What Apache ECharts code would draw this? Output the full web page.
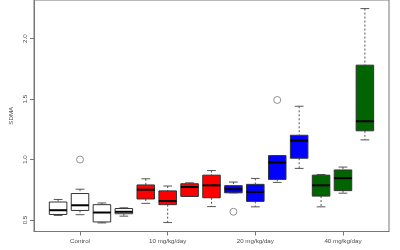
<!DOCTYPE html>
<html>
<head>
<meta charset="utf-8">
<script src="https://cdn.jsdelivr.net/npm/echarts@6/dist/echarts.min.js"></script>
<style>html,body{margin:0;padding:0;background:#fff;}#c{width:400px;height:250px;}</style>
</head>
<body>
<div id="c"></div>
<script>
const categories = ['Control', '10 mg/kg/day', '20 mg/kg/day', '40 mg/kg/day'];
const categoryPositions = [2, 6, 10, 14];
const yTickValues = [0.5, 1.0, 1.5, 2.0];
const boxPositions = [1, 2, 3, 4, 5, 6, 7, 8, 9, 10, 11, 12, 13, 14, 15];
const boxGroup = [0, 0, 0, 0, 1, 1, 1, 1, 2, 2, 2, 2, 3, 3, 3];
const whiskerLow  = [0.538, 0.544, 0.476, 0.532, 0.638, 0.479, 0.695, 0.611, 0.725, 0.609, 0.811, 0.927, 0.609, 0.722, 1.163];
const q1          = [0.546, 0.579, 0.484, 0.552, 0.674, 0.627, 0.695, 0.684, 0.725, 0.654, 0.836, 1.011, 0.698, 0.743, 1.238];
const median      = [0.581, 0.622, 0.562, 0.568, 0.751, 0.657, 0.773, 0.787, 0.755, 0.733, 0.976, 1.157, 0.787, 0.846, 1.317];
const q3          = [0.649, 0.719, 0.627, 0.595, 0.790, 0.741, 0.800, 0.871, 0.784, 0.795, 1.033, 1.201, 0.871, 0.914, 1.781];
const whiskerHigh = [0.670, 0.755, 0.641, 0.601, 0.841, 0.781, 0.808, 0.909, 0.814, 0.844, 1.033, 1.441, 0.876, 0.938, 2.249];
const outlierPositions = [2, 9, 11];
const outlierValues = [1.0, 0.568, 1.493];

const groupFill = ['#ffffff', '#ff0000', '#0000ff', '#006400'];

const boxData = boxPositions.map((p, i) => [p, whiskerLow[i], q1[i], median[i], q3[i], whiskerHigh[i], boxGroup[i]]);
const outlierData = outlierPositions.map((p, i) => [p, outlierValues[i]]);

const FONT = 'Liberation Sans, Arial, sans-serif';
const TXT = '#4a4a4a';

function renderBox(params, api) {
  const x = api.value(0);
  const wl = api.coord([x, api.value(1)]);
  const lo = api.coord([x, api.value(2)]);
  const md = api.coord([x, api.value(3)]);
  const hi = api.coord([x, api.value(4)]);
  const wh = api.coord([x, api.value(5)]);
  const g = api.value(6);
  const half = api.size([0.8, 0])[0] / 2;
  const staple = half / 2;
  const cx = wl[0];
  const children = [];
  const dash = {stroke: '#555', lineWidth: 1, lineDash: [2, 2]};
  const solid = {stroke: '#555', lineWidth: 1};
  if (wh[1] < hi[1] - 0.5) {
    children.push({type: 'line', shape: {x1: cx, y1: wh[1], x2: cx, y2: hi[1]}, style: dash});
  }
  children.push({type: 'line', shape: {x1: cx - staple, y1: wh[1], x2: cx + staple, y2: wh[1]}, style: solid});
  if (wl[1] > lo[1] + 0.5) {
    children.push({type: 'line', shape: {x1: cx, y1: lo[1], x2: cx, y2: wl[1]}, style: dash});
  }
  children.push({type: 'line', shape: {x1: cx - staple, y1: wl[1], x2: cx + staple, y2: wl[1]}, style: solid});
  children.push({type: 'rect', shape: {x: cx - half, y: hi[1], width: half * 2, height: lo[1] - hi[1]},
    style: {fill: groupFill[g], stroke: '#333', lineWidth: 1}});
  children.push({type: 'line', shape: {x1: cx - half, y1: md[1], x2: cx + half, y2: md[1]},
    style: {stroke: '#000', lineWidth: 2}});
  return {type: 'group', children: children};
}

const chart = echarts.init(document.getElementById('c'), null, {renderer: 'canvas'});
chart.setOption({
  animation: false,
  backgroundColor: '#fff',
  grid: {left: 29, right: 11, top: -5, bottom: 18.5, show: true, borderColor: '#777', borderWidth: 1, containLabel: false},
  xAxis: {
    type: 'value', min: -0.1, max: 16.1,
    splitLine: {show: false},
    axisLine: {show: true, onZero: false, lineStyle: {color: '#777', width: 1}},
    axisTick: {show: true, length: 4, customValues: categoryPositions, lineStyle: {color: '#777'}},
    axisLabel: {
      show: true, margin: 7, customValues: categoryPositions,
      formatter: v => categories[categoryPositions.indexOf(v)] || '',
      fontSize: 6.2, fontFamily: FONT, color: TXT
    }
  },
  yAxis: {
    type: 'value', min: 0.405, max: 2.32,
    name: 'SDMA', nameLocation: 'middle', nameGap: 20, nameRotate: 90,
    nameTextStyle: {fontSize: 6.2, fontFamily: FONT, color: TXT},
    splitLine: {show: false},
    axisLine: {show: true, onZero: false, lineStyle: {color: '#777', width: 1}},
    axisTick: {show: true, length: 4, customValues: yTickValues, lineStyle: {color: '#777'}},
    axisLabel: {
      show: true, rotate: 90, margin: 6, customValues: yTickValues,
      align: 'center', verticalAlign: 'bottom',
      formatter: v => Number(v).toFixed(1),
      fontSize: 6.2, fontFamily: FONT, color: TXT
    }
  },
  series: [
    {
      type: 'custom',
      renderItem: renderBox,
      data: boxData,
      encode: {x: 0, y: [1, 2, 3, 4, 5]},
      clip: false,
      z: 2
    },
    {
      type: 'scatter',
      data: outlierData,
      symbol: 'circle',
      symbolSize: 7,
      z: 3,
      itemStyle: {color: 'rgba(255,255,255,0)', borderColor: '#777', borderWidth: 1}
    }
  ]
});
</script>
</body>
</html>
